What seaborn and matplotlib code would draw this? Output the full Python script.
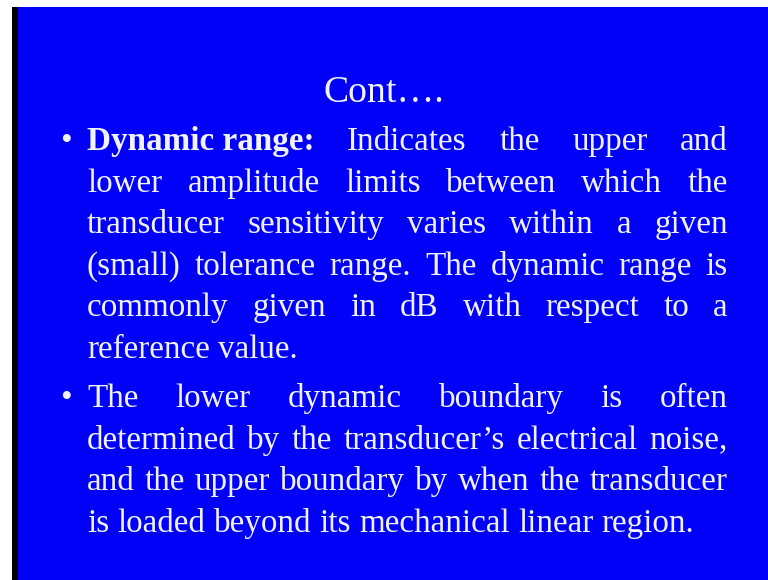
import matplotlib
matplotlib.use("Agg")
import matplotlib.pyplot as plt
from matplotlib.patches import Rectangle
import seaborn as sns

# ---- slide content ----
TITLE = "Cont…."
BULLET_1_LINES = [
    "Dynamic range: Indicates the upper and",
    "lower amplitude limits between which the",
    "transducer sensitivity varies within a given",
    "(small) tolerance range. The dynamic range is",
    "commonly given in dB with respect to a",
    "reference value.",
]
BULLET_1_BOLD_WORDS = 2
BULLET_2_LINES = [
    "The lower dynamic boundary is often",
    "determined by the transducer’s electrical noise,",
    "and the upper boundary by when the transducer",
    "is loaded beyond its mechanical linear region.",
]
BULLET_2_BOLD_WORDS = 0

# ---- style ----
BLUE = "#0000F8"
TXT = "#F0F3FF"
FS = 23.9
FS_TITLE = 27.2

sns.set_theme(style="white")
plt.rcParams['font.family'] = ['Liberation Serif', 'DejaVu Serif']

W, H = 768, 580
fig = plt.figure(figsize=(7.68, 5.80), dpi=100)
fig.patch.set_facecolor('white')
ax = fig.add_axes([0, 0, 1, 1])
ax.set_xlim(0, W)
ax.set_ylim(H, 0)
ax.axis('off')
ax.add_patch(Rectangle((12, 7), 6, H, color='black', lw=0))
ax.add_patch(Rectangle((18, 7), W - 18, H, color=BLUE, lw=0))

renderer = fig.canvas.get_renderer()

ax.text(W / 2, 102, TITLE, fontsize=FS_TITLE, color=TXT, ha='center', va='baseline')

X0, X1 = 87, 728
BULLET_X = 60
LINE_H = 41.6


def draw_line(line, bold_n, y, justify):
    words = line.split()
    tokens = []
    if bold_n > 0:
        tokens.append((" ".join(words[:bold_n]), 'bold'))
    tokens += [(w, 'normal') for w in words[bold_n:]]
    texts = [ax.text(0, y, w, fontsize=FS, color=TXT, ha='left', va='baseline', weight=wt)
             for w, wt in tokens]
    widths = [t.get_window_extent(renderer).width for t in texts]
    if justify and len(tokens) > 1:
        gap = (X1 - X0 - sum(widths)) / (len(tokens) - 1)
    else:
        gap = FS * 100 / 72 * 0.25
    x = X0
    for t, wd in zip(texts, widths):
        t.set_x(x)
        x += wd + gap


def draw_paragraph(lines, bold_words, y0):
    ax.text(BULLET_X, y0, "•", fontsize=FS, color=TXT, ha='left', va='baseline')
    remaining_bold = bold_words
    for k, line in enumerate(lines):
        n = len(line.split())
        b = min(remaining_bold, n)
        draw_line(line, b, y0 + k * LINE_H, justify=(k < len(lines) - 1))
        remaining_bold -= b


draw_paragraph(BULLET_1_LINES, BULLET_1_BOLD_WORDS, 150)
draw_paragraph(BULLET_2_LINES, BULLET_2_BOLD_WORDS, 407)

fig.savefig("out.png", dpi=100, facecolor=fig.get_facecolor())
